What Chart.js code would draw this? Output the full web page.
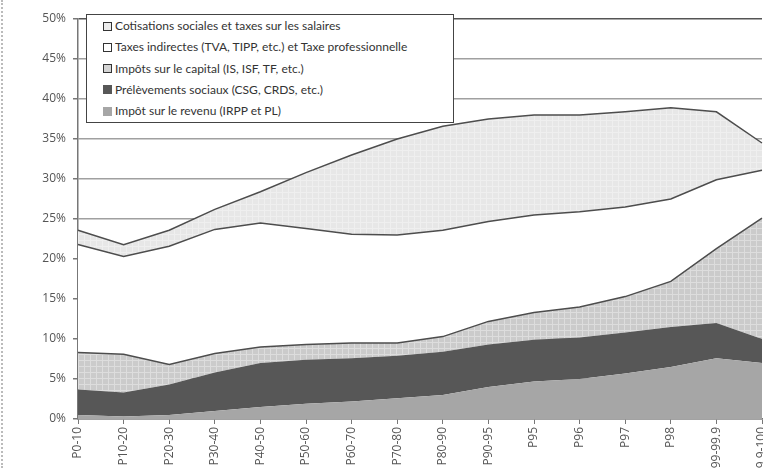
<!DOCTYPE html>
<html>
<head>
<meta charset="utf-8">
<script src="https://cdn.jsdelivr.net/npm/chart.js@4.4.1/dist/chart.umd.min.js"></script>
<style>
  html, body { margin: 0; padding: 0; background: #fff; }
  #frame { position: relative; width: 763px; height: 468px; overflow: hidden; background: #fff; }
  #box { position: absolute; left: 0; top: 0; width: 800px; height: 520px; }
  #dots { position: absolute; left: 1px; top: 0; width: 0; height: 468px; border-left: 2px dotted #bbb; }
  #legend {
    position: absolute; left: 86px; top: 14px; width: 366px; height: 107px;
    border: 1.5px solid #444; background: #fff;
    font: 12px Lato, "Open Sans", sans-serif; color: #333;
  }
  #legend .item { position: absolute; left: 16px; height: 14px; line-height: 14px; white-space: nowrap; }
  #legend .mark { display: inline-block; width: 7px; height: 7px; border: 1.3px solid #333; margin-right: 3px; vertical-align: -0.5px; }
</style>
</head>
<body>
<div id="frame">
  <div id="box"><canvas id="c"></canvas></div>
  <div id="dots"></div>
  <div id="legend"></div>
</div>
<script>
// categories (fractiles)
const categories = ["P0-10", "P10-20", "P20-30", "P30-40", "P40-50", "P50-60", "P60-70", "P70-80",
  "P80-90", "P90-95", "P95", "P96", "P97", "P98", "P99-99.9", "P99.9-100"];

// tax rates by component, % of income (stacked bottom -> top)
const impotRevenu  = [0.5, 0.3, 0.5, 1.0, 1.5, 1.9, 2.2, 2.6, 3.0, 4.0, 4.7, 5.0, 5.7, 6.5, 7.6, 7.0];
const prelSociaux  = [3.2, 3.0, 3.8, 4.8, 5.5, 5.5, 5.4, 5.3, 5.4, 5.3, 5.2, 5.2, 5.1, 5.0, 4.4, 3.0];
const impotCapital = [4.6, 4.8, 2.5, 2.4, 2.0, 1.9, 1.9, 1.6, 1.9, 2.9, 3.4, 3.8, 4.5, 5.7, 9.3, 15.1];
const taxesIndir   = [13.5, 12.2, 14.8, 15.5, 15.5, 14.5, 13.6, 13.5, 13.3, 12.5, 12.2, 11.9, 11.2, 10.3, 8.6, 6.0];
const cotisations  = [1.8, 1.5, 2.0, 2.5, 3.9, 7.0, 9.9, 12.0, 13.0, 12.8, 12.5, 12.1, 11.9, 11.4, 8.5, 3.4];

const yTicks = [0, 5, 10, 15, 20, 25, 30, 35, 40, 45, 50];

const labels = {
  cot: "Cotisations sociales et taxes sur les salaires",
  ind: "Taxes indirectes (TVA, TIPP, etc.) et Taxe professionnelle",
  cap: "Impôts sur le capital (IS, ISF, TF, etc.)",
  ps:  "Prélèvements sociaux (CSG, CRDS, etc.)",
  ir:  "Impôt sur le revenu (IRPP et PL)"
};

const canvas = document.getElementById("c");
const ctx = canvas.getContext("2d");

// little grid-hatched fill like the excel pattern
function hatch(base, line, size) {
  const p = document.createElement("canvas");
  p.width = p.height = size;
  const g = p.getContext("2d");
  g.fillStyle = base; g.fillRect(0, 0, size, size);
  g.fillStyle = line; g.fillRect(0, 0, size, 1); g.fillRect(0, 0, 1, size);
  return ctx.createPattern(p, "repeat");
}

const lineCol = "#4d4d4d";
const series = [
  { key: "ir",  data: impotRevenu,  fill: "#a6a6a6", css: "#a6a6a6", border: 0 },
  { key: "ps",  data: prelSociaux,  fill: "#575757", css: "#575757", border: 0 },
  { key: "cap", data: impotCapital, fill: hatch("#cbcbcb", "#dddddd", 6), css: "#d4d4d4", border: 1.5 },
  { key: "ind", data: taxesIndir,   fill: "#ffffff", css: "#ffffff", border: 1.5 },
  { key: "cot", data: cotisations,  fill: hatch("#e7e7e7", "#efefef", 6), css: "#ececec", border: 1.5 }
];

new Chart(ctx, {
  type: "line",
  data: {
    labels: categories,
    datasets: series.map((s, i) => ({
      label: labels[s.key],
      data: s.data,
      backgroundColor: s.fill,
      borderColor: s.border ? lineCol : s.css,
      borderWidth: s.border,
      fill: i === 0 ? "origin" : "-1",
      pointRadius: 0,
      tension: 0
    }))
  },
  options: {
    responsive: true,
    maintainAspectRatio: false,
    animation: false,
    layout: { padding: { left: 0, top: 19, right: 38, bottom: 0 } },
    plugins: { legend: { display: false }, tooltip: { enabled: false } },
    scales: {
      x: {
        offset: false,
        grid: { display: true, drawOnChartArea: false, drawTicks: true, tickLength: 5, color: "#777" },
        border: { color: "#777", width: 1.5 },
        ticks: { color: "#555", font: { family: "Open Sans", size: 12 }, maxRotation: 90, minRotation: 90, autoSkip: false, padding: 3 },
        afterFit(s) { s.height = 101; }
      },
      y: {
        stacked: true,
        min: 0, max: 50,
        afterBuildTicks(s) { s.ticks = yTicks.map(v => ({ value: v })); },
        grid: { color: ctx => ctx.tick.value === 50 ? "#555" : "#a0a0a0", lineWidth: 1.5, tickLength: 5, tickColor: "#777" },
        border: { color: "#777", width: 1.5 },
        ticks: { color: "#555", font: { family: "Open Sans", size: 12 }, padding: 7, callback: v => v + "%" },
        afterFit(s) { s.width = 78; }
      }
    }
  }
});

// legend box (top to bottom = top of the stack first)
const legend = document.getElementById("legend");
series.slice().reverse().forEach((s, i) => {
  const row = document.createElement("div");
  row.className = "item";
  row.style.top = (4 + i * 21.3) + "px";
  const m = document.createElement("span");
  m.className = "mark";
  m.style.background = s.css;
  if (s.key === "ps") m.style.borderColor = "#575757";
  if (s.key === "ir") m.style.borderColor = "#a6a6a6";
  row.appendChild(m);
  row.appendChild(document.createTextNode(labels[s.key]));
  legend.appendChild(row);
});
</script>
</body>
</html>
